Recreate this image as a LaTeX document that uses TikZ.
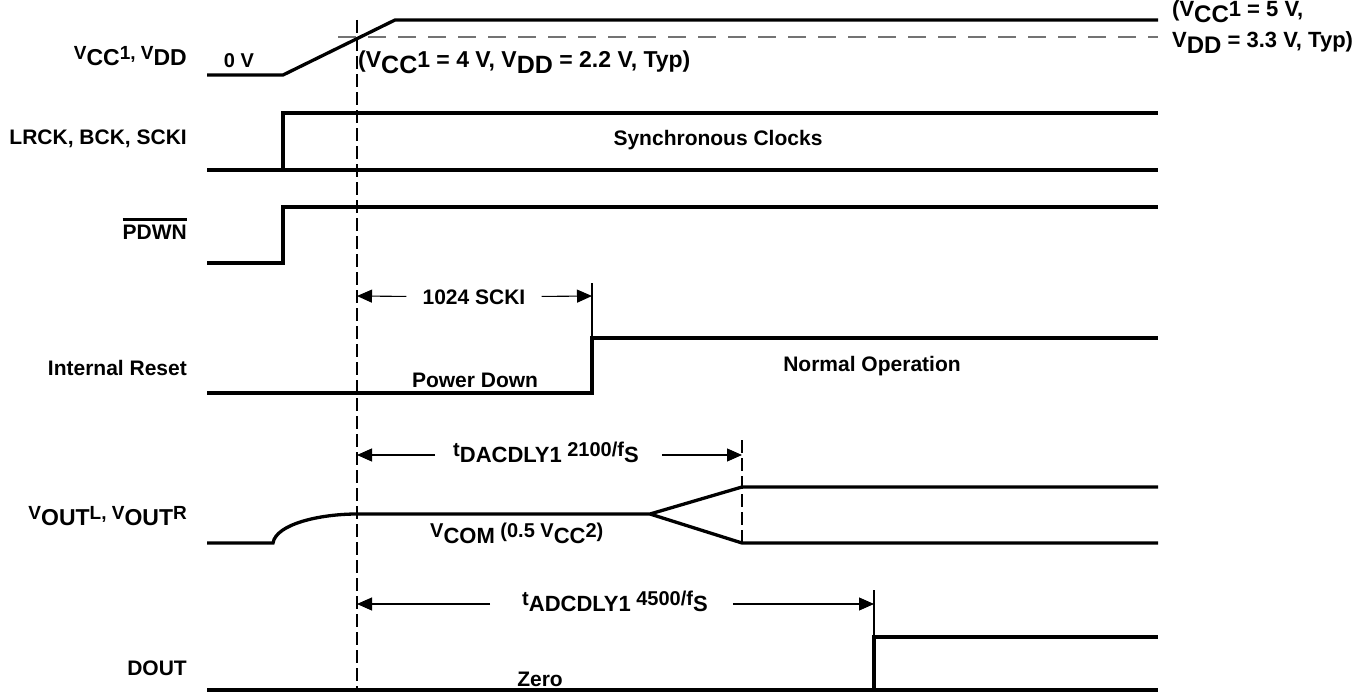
\documentclass[tikz,border=0pt]{standalone}
\usepackage{fontspec}
\setmainfont{Liberation Sans}
\usetikzlibrary{arrows.meta}
% lowered, larger part of a label (the sheet's own subscript style)
\newcommand\lwsize{21}
\newcommand\lw[1]{\raisebox{-6pt}{\fontsize{\lwsize}{\lwsize}\selectfont #1}}
\newcommand\ovl[1]{\vbox{\hrule height 2.6pt\kern 4pt\hbox{#1}}}

\begin{document}
\begin{tikzpicture}[x=1pt, y=-1pt,
  wave/.style={line width=3.3pt, line cap=butt, line join=miter},
  tdash/.style={line width=1.1pt, dash pattern=on 13pt off 5pt},
  gdash/.style={line width=1.3pt, draw=black!55, dash pattern=on 18pt off 12pt},
  tick/.style={line width=1.1pt},
  dimarr/.style={line width=1.1pt, -{Triangle[length=15pt, width=13pt]}},
  sig/.style={anchor=east, inner sep=0pt, font=\fontsize{21}{24}\selectfont\bfseries},
  sigmix/.style={sig, font=\fontsize{19}{24}\selectfont\bfseries\def\lwsize{23}},
  txt/.style={inner sep=0pt, font=\fontsize{21}{24}\selectfont\bfseries},
  mix/.style={anchor=base west, inner sep=0pt,
              font=\fontsize{22}{24}\selectfont\bfseries\def\lwsize{24}},
  dimlbl/.style={anchor=west, inner sep=0pt,
              font=\fontsize{20}{22}\selectfont\bfseries\def\lwsize{22}}
]
\useasboundingbox (0,0) rectangle (1362,693);

% signal names
\node[sigmix] (nVcc) at (187,56)  {V\lw{CC}1, V\lw{DD}};
\node[sig] (nClk)  at (187,139) {LRCK, BCK, SCKI};
\node[sig] (nPdwn) at (187,229) {\ovl{PDWN}};
\node[sig] (nRst)  at (187,368) {Internal Reset};
\node[sigmix] (nVout) at (187,516) {V\lw{OUT}L, V\lw{OUT}R};
\node[sig] (nDout) at (187,668) {DOUT};

% power supply
\draw[gdash] (338,37) -- (1158,37);
\draw[wave] (207,75) -- (283,75) -- (395,20) -- (1158,20);
\node[txt, font=\fontsize{20}{22}\selectfont\bfseries] (zeroV) at (239,61) {0 V};
\node[mix, font=\fontsize{23}{25}\selectfont\bfseries\def\lwsize{25}] (thrLo) at (358,67)
  {(V\lw{CC}1 = 4 V, V\lw{DD} = 2.2 V, Typ)};
\node[mix] (thrHiA) at (1172,17) {(V\lw{CC}1 = 5 V,};
\node[mix] (thrHiB) at (1172,48) {V\lw{DD} = 3.3 V, Typ)};

% clocks
\draw[wave] (207,170) -- (1158,170);
\draw[wave] (283,170) -- (283,113) -- (1158,113);
\node[txt] (sync) at (718,140) {Synchronous Clocks};

% power down pin
\draw[wave] (207,263) -- (283,263) -- (283,207) -- (1158,207);

% start of power-up sequence
\coordinate (t0top) at (357,20);
\coordinate (t0bot) at (357,690);
\draw[tdash] (t0top) -- (t0bot);

% internal reset
\coordinate (rstL) at (357,296);
\coordinate (rstR) at (592,296);
\node[txt, inner xsep=16pt] (sckiLbl) at (474,297) {1024 SCKI};
\draw[dimarr] (sckiLbl) -- (rstL);
\draw[dimarr] (sckiLbl) -- (rstR);
\draw[tick] (592,283) -- (592,338);
\draw[wave] (207,393) -- (592,393) -- (592,338) -- (1158,338);
\node[txt] (pdLbl) at (475,380) {Power Down};
\node[txt] (normLbl) at (872,366) {Normal Operation};

% DAC outputs
\coordinate (dacL) at (357,455);
\coordinate (dacR) at (742,455);
\node[dimlbl] (dacTxt) at (453,452) {t\lw{DACDLY1} 2100/f\lw{S}};
\draw[dimarr] ([xshift=-18pt]dacTxt.west |- dacL) -- (dacL);
\draw[dimarr] ([xshift=23pt]dacTxt.east |- dacR) -- (dacR);
\draw[tdash] (742,440) -- (742,543);
\draw[wave] (207,543) -- (273,543) .. controls (276,524) and (320,514) .. (357,514)
  -- (650,514) -- (742,487) -- (1158,487);
\draw[wave] (650,514) -- (742,543) -- (1158,543);
\node[dimlbl, anchor=base west] (vcomLbl) at (430,537) {V\lw{COM} (0.5 V\lw{CC}2)};

% ADC output
\coordinate (adcL) at (357,604);
\coordinate (adcR) at (874,604);
\node[dimlbl] (adcTxt) at (522,601) {t\lw{ADCDLY1} 4500/f\lw{S}};
\draw[dimarr] ([xshift=-32pt]adcTxt.west |- adcL) -- (adcL);
\draw[dimarr] ([xshift=25pt]adcTxt.east |- adcR) -- (adcR);
\draw[tick] (874,590) -- (874,637);
\draw[wave] (207,690) -- (1158,690);
\draw[wave] (874,690) -- (874,637) -- (1158,637);
\node[txt] (zeroLbl) at (540,679) {Zero};
\end{tikzpicture}
\end{document}
